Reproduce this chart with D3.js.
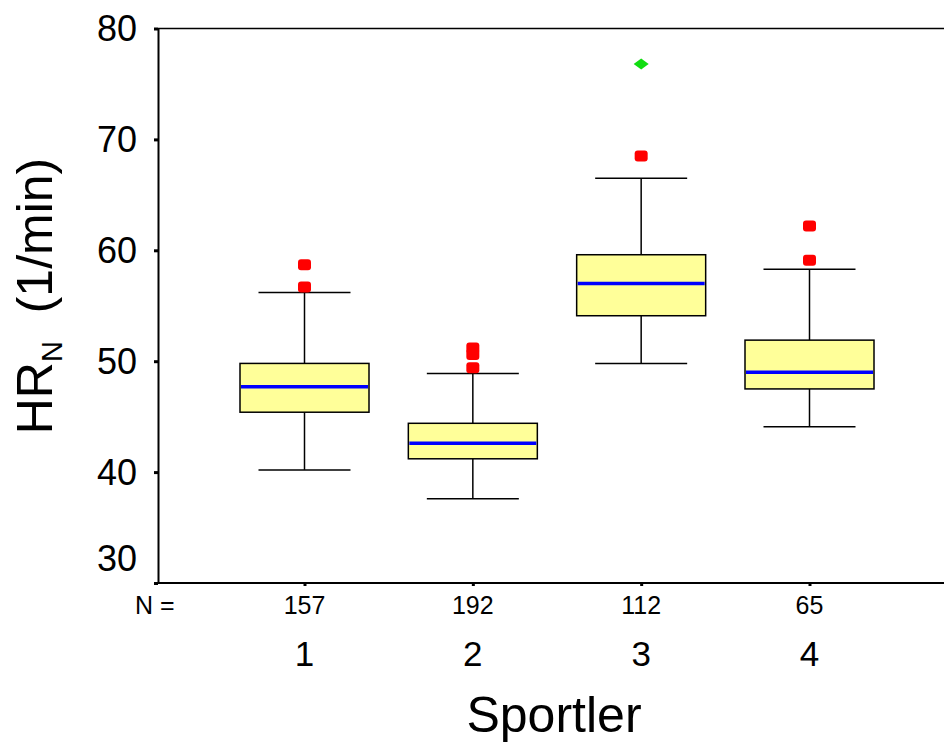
<!DOCTYPE html>
<html>
<head>
<meta charset="utf-8">
<script src="https://cdn.jsdelivr.net/npm/d3@7"></script>
<style>
  body { margin: 0; background: #fff; }
  svg { display: block; font-family: "Liberation Sans", Arial, sans-serif; }
</style>
</head>
<body>
<svg id="chart" width="944" height="744"></svg>
<script>
// Boxplot summary per athlete (Sportler)
const categories = ['1', '2', '3', '4'];
const counts = [157, 192, 112, 65];
const whiskerLow = [40.2, 37.6, 49.8, 44.1];
const quartile1 = [45.4, 41.2, 54.1, 47.5];
const medians = [47.7, 42.6, 57.0, 49.0];
const quartile3 = [49.8, 44.4, 59.6, 51.9];
const whiskerHigh = [56.2, 48.9, 66.5, 58.3];
const outliers = [[58.7, 56.7], [51.2, 50.6, 49.4], [68.5], [62.2, 59.1]];
const extremes = [[], [], [76.8], []];
const yTicks = [30, 40, 50, 60, 70, 80];

const boxes = categories.map((c, i) => ({
  cat: c, n: counts[i], lo: whiskerLow[i], q1: quartile1[i], med: medians[i],
  q3: quartile3[i], hi: whiskerHigh[i], out: outliers[i], ext: extremes[i]
}));

const svg = d3.select('#chart');
const plotLeft = 158, plotTop = 28.5, plotBottom = 583, plotRight = 944;

const y = d3.scaleLinear().domain([30, 80]).range([plotBottom, plotTop]);
const x = d3.scalePoint().domain(categories).range([304.5, 809.5]);

const boxWidth = 129;
const capWidth = 92;

// Frame: top and bottom lines run off the right edge
svg.append('line')
  .attr('x1', plotLeft).attr('x2', plotRight).attr('y1', plotTop).attr('y2', plotTop)
  .attr('stroke', '#000').attr('stroke-width', 1.5);
svg.append('line')
  .attr('x1', plotLeft).attr('x2', plotRight).attr('y1', plotBottom).attr('y2', plotBottom)
  .attr('stroke', '#000').attr('stroke-width', 2);

// Y axis
const yAxis = svg.append('g')
  .attr('transform', `translate(${plotLeft},0)`)
  .call(d3.axisLeft(y).tickValues(yTicks).tickSize(4).tickSizeOuter(0).tickPadding(17));
yAxis.select('.domain').attr('stroke', '#000').attr('stroke-width', 2);
yAxis.selectAll('.tick line').attr('stroke', '#000').attr('stroke-width', 3);
yAxis.selectAll('.tick text')
  .attr('font-size', 36).attr('fill', '#000')
  // lowest label is lifted above the x axis
  .attr('dy', (d) => d === 30 ? '-0.35em' : '0.34em');
yAxis.attr('font-family', null).attr('font-size', null);

// X axis ticks
const xAxis = svg.append('g')
  .attr('transform', `translate(0,${plotBottom})`)
  .call(d3.axisBottom(x).tickSize(3).tickSizeOuter(0).tickFormat(''));
xAxis.select('.domain').remove();
xAxis.selectAll('.tick line').attr('stroke', '#000').attr('stroke-width', 3);

// N = counts row
svg.append('text')
  .attr('x', 135).attr('y', 614)
  .attr('font-size', 25)
  .text('N =');
svg.selectAll('.count')
  .data(boxes)
  .enter().append('text')
    .attr('class', 'count')
    .attr('x', (d) => x(d.cat)).attr('y', 614)
    .attr('text-anchor', 'middle')
    .attr('font-size', 25)
    .text((d) => d.n);

// Category labels
svg.selectAll('.cat')
  .data(boxes)
  .enter().append('text')
    .attr('class', 'cat')
    .attr('x', (d) => x(d.cat)).attr('y', 666)
    .attr('text-anchor', 'middle')
    .attr('font-size', 35)
    .text((d) => d.cat);

// Axis titles
svg.append('text')
  .attr('x', 554).attr('y', 732)
  .attr('text-anchor', 'middle')
  .attr('font-size', 50)
  .text('Sportler');

const yTitle = svg.append('text')
  .attr('transform', 'translate(52,296) rotate(-90)')
  .attr('text-anchor', 'middle')
  .attr('font-size', 50);
yTitle.append('tspan').text('HR');
yTitle.append('tspan').attr('font-size', 29).attr('dy', 10).text('N');
yTitle.append('tspan').attr('dy', -10).text('\u00a0\u00a0(1/min)');

// Boxes
const group = svg.selectAll('.box')
  .data(boxes)
  .enter().append('g')
    .attr('class', 'box')
    .attr('transform', (d) => `translate(${x(d.cat)},0)`);

// Whisker stems and caps
group.append('line')
  .attr('y1', (d) => y(d.hi)).attr('y2', (d) => y(d.q3))
  .attr('stroke', '#000').attr('stroke-width', 1.5);
group.append('line')
  .attr('y1', (d) => y(d.q1)).attr('y2', (d) => y(d.lo))
  .attr('stroke', '#000').attr('stroke-width', 1.5);
group.selectAll('.cap')
  .data((d) => [d.hi, d.lo])
  .enter().append('line')
    .attr('class', 'cap')
    .attr('x1', -capWidth / 2).attr('x2', capWidth / 2)
    .attr('y1', (v) => y(v)).attr('y2', (v) => y(v))
    .attr('stroke', '#000').attr('stroke-width', 1.5);

group.append('rect')
  .attr('x', -boxWidth / 2).attr('width', boxWidth)
  .attr('y', (d) => y(d.q3)).attr('height', (d) => y(d.q1) - y(d.q3))
  .attr('fill', '#ffff99').attr('stroke', '#000').attr('stroke-width', 1.5);

group.append('line')
  .attr('x1', -boxWidth / 2 + 1).attr('x2', boxWidth / 2 - 1)
  .attr('y1', (d) => y(d.med)).attr('y2', (d) => y(d.med))
  .attr('stroke', '#0000ff').attr('stroke-width', 3.5);

// Outliers: red rounded squares
group.selectAll('.outlier')
  .data((d) => d.out)
  .enter().append('rect')
    .attr('class', 'outlier')
    .attr('x', -6.5).attr('width', 13)
    .attr('y', (v) => y(v) - 5.5).attr('height', 11)
    .attr('rx', 3)
    .attr('fill', '#ff0000');

// Extremes: green diamonds
group.selectAll('.extreme')
  .data((d) => d.ext)
  .enter().append('path')
    .attr('class', 'extreme')
    .attr('d', (v) => `M-7.5,${y(v)} L0,${y(v) - 5.5} L7.5,${y(v)} L0,${y(v) + 5.5} Z`)
    .attr('fill', '#11dd11');
</script>
</body>
</html>
